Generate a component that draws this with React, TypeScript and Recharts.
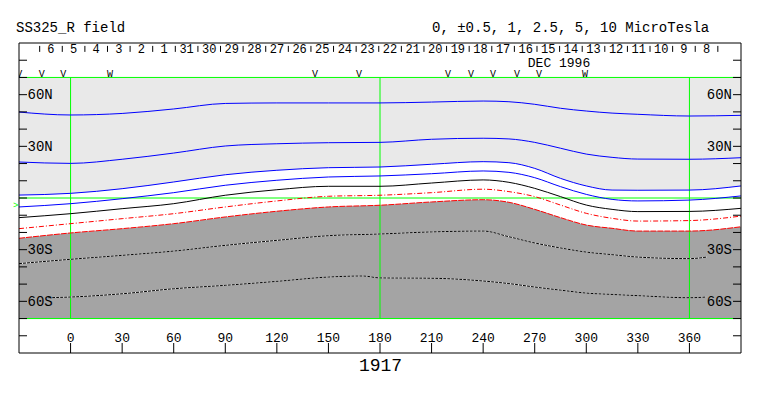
import React from 'react';
import { ComposedChart, Area, Line, XAxis, YAxis, ReferenceLine, Scatter } from 'recharts';

const W = 763;
const H = 396;
const FRAME_L = 19;
const FRAME_R = 741;
const FRAME_T = 43;
const FRAME_B = 353;
const FONT = '"Liberation Mono", "DejaVu Sans Mono", monospace';

// Carrington longitude sample points (deg)
const lons = [-30, -13, 0, 30, 60, 90, 120, 150, 170, 180, 210, 240, 255, 270, 285, 300, 315, 330, 360, 370, 390];

// contour latitudes (deg), top to bottom
const blue1 = [49.9, null, 48.2, 49.1, 51.7, 54.9, 55.2, 55.2, null, 55.2, 55.7, 56.3, 55.9, 54.4, 52.1, 50.5, 49.3, 48.6, 47.6, null, 48.0];
const blue2 = [20.9, null, 20.1, 22.5, 26.1, 30.2, 31.5, 32.1, null, 32.3, 34.1, 34.7, 34.3, 32.3, 28.9, 25.5, 23.6, 22.6, 22.5, null, 23.4];
const blue3 = [1.7, null, 2.7, 5.4, 9.3, 13.5, 16.1, 17.6, null, 18.0, 19.6, 21.1, 20.5, 17.2, 11.4, 7.0, 4.6, 4.5, 4.6, null, 7.0];
const blue4 = [-5.2, null, -3.3, -0.4, 3.1, 7.4, 10.3, 12.2, null, 12.8, 14.1, 15.7, 14.9, 11.8, 6.6, 2.1, -0.8, -1.7, -1.2, null, 1.2];
const neutral = [-11.4, null, -9.1, -6.2, -3.3, 1.6, 4.8, 6.8, null, 6.8, 8.7, 10.5, 9.1, 5.6, 0.8, -4.1, -6.6, -7.9, -7.8, null, -6.0];
const red1 = [-17.8, null, -14.9, -12.0, -9.1, -5.2, -1.7, 1.0, null, 1.6, 3.1, 5.1, 3.7, 0.8, -4.1, -8.9, -11.8, -13.4, -13.1, null, -10.5];
const red2 = [-23.4, null, -20.3, -17.8, -14.9, -11.0, -7.7, -5.2, null, -4.2, -2.3, -1.0, -2.5, -6.6, -11.4, -15.7, -17.6, -19.2, -19.2, null, -16.7];
const dotted1 = [-38.1, null, -35.6, -33.3, -30.8, -27.5, -24.6, -21.9, null, -20.9, -19.7, -19.2, -22.5, -26.1, -29.0, -31.4, -32.9, -34.3, -35.2, -34.3, null];
const dotted2 = [null, -57.9, -57.5, -55.6, -52.7, -50.7, -48.4, -45.9, -45.3, -46.4, -46.6, -48.2, -49.7, -51.7, -53.5, -55.2, -56.0, -56.7, -57.9, -57.5, null];

// axis ticks
const lonTicks = [0, 30, 60, 90, 120, 150, 180, 210, 240, 270, 300, 330, 360];
const latTicks = [-80, -70, -60, -50, -40, -30, -20, -10, 0, 10, 20, 30, 40, 50, 60, 70, 80];
const latLabeled = [60, 30, -30, -60];

// dates along the top (Dec 1996 / Jan 1997, time runs right to left)
const dayNums = [6, 5, 4, 3, 2, 1, 31, 30, 29, 28, 27, 26, 25, 24, 23, 22, 21, 20, 19, 18, 17, 16, 15, 14, 13, 12, 11, 10, 9, 8];
const DAY0_LON = -11.4;
const DEG_PER_DAY = 13.15;
const DAY_ROW_LAT = 86;
const HALF_DAY_PX = 11.3;

// small markers above the map
const markLons = [-29.8, -16.8, -4.2, 22.9, 142.2, 167.8, 219.6, 232.9, 245.7, 259.7, 272.5, 299.3];
const markChars = ['V', 'V', 'V', 'W', 'V', 'V', 'V', 'V', 'V', 'V', 'V', 'W'];

const rows = lons.map((lon, i) => ({
  lon,
  blue1: blue1[i],
  blue2: blue2[i],
  blue3: blue3[i],
  blue4: blue4[i],
  neutral: neutral[i],
  red1: red1[i],
  red2: red2[i],
  dotted1: dotted1[i],
  dotted2: dotted2[i],
  light: blue3[i] == null ? null : [blue3[i], 70],
  dark: red2[i] == null ? null : [-70, red2[i]],
}));

const markRows = markLons.map((lon, i) => ({ lon, lat: 72, ch: markChars[i] }));
const dayRows = dayNums.map((day, i) => ({ lon: DAY0_LON + i * DEG_PER_DAY, lat: DAY_ROW_LAT, day, last: i === dayNums.length - 1 }));

const latLabel = (v: number) => `${Math.abs(v)}${v > 0 ? 'N' : 'S'}`;

const LonTick = (p: any) => (
  <g>
    <line x1={p.x} x2={p.x} y1={FRAME_B - 10} y2={FRAME_B} stroke="#000" />
    <text x={p.x} y={FRAME_B - 11} textAnchor="middle" fontSize={13} fontFamily={FONT} fill="#000">
      {p.payload.value}
    </text>
  </g>
);

const LeftLatTick = (p: any) => {
  const v = p.payload.value;
  return (
    <g>
      <line x1={FRAME_L} x2={FRAME_L + 8} y1={p.y} y2={p.y} stroke="#000" />
      {latLabeled.includes(v) && (
        <text x={FRAME_L + 8.5} y={p.y + 4.5} fontSize={14} fontFamily={FONT} fill="#000">
          {latLabel(v)}
        </text>
      )}
    </g>
  );
};

const RightLatTick = (p: any) => {
  const v = p.payload.value;
  return (
    <g>
      <line x1={FRAME_R - 8} x2={FRAME_R} y1={p.y} y2={p.y} stroke="#000" />
      {latLabeled.includes(v) && (
        <text x={FRAME_R - 9} y={p.y + 4.5} textAnchor="end" fontSize={14} fontFamily={FONT} fill="#000">
          {latLabel(v)}
        </text>
      )}
    </g>
  );
};

const MarkShape = (p: any) => (
  <text x={p.cx} y={p.cy + 3} textAnchor="middle" fontSize={10} fontFamily={FONT} fill="#000">
    {p.payload.ch}
  </text>
);

const DayShape = (p: any) => (
  <g>
    <line x1={p.cx - HALF_DAY_PX} x2={p.cx - HALF_DAY_PX} y1={p.cy - 4} y2={p.cy + 2} stroke="#000" />
    {p.payload.last && (
      <line x1={p.cx + HALF_DAY_PX} x2={p.cx + HALF_DAY_PX} y1={p.cy - 4} y2={p.cy + 2} stroke="#000" />
    )}
    <text x={p.cx} y={p.cy + 3.5} textAnchor="middle" fontSize={12} fontFamily={FONT} fill="#000">
      {p.payload.day}
    </text>
  </g>
);

const GREEN = '#00ff00';

export default function App() {
  const ax = { xAxisId: 'b', yAxisId: 'l' };
  return (
    <div style={{ position: 'absolute', left: 0, top: 0, width: W, height: H, background: '#fff' }}>
      <ComposedChart width={W} height={H} data={rows}
        margin={{ top: FRAME_T - 1, right: W - FRAME_R - 1, bottom: H - FRAME_B - 1, left: FRAME_L - 1 }}>
        <XAxis xAxisId="b" dataKey="lon" type="number" domain={[-30, 390]} allowDataOverflow ticks={lonTicks} interval={0}
          height={1} tickLine={false} axisLine={{ stroke: '#000' }} tick={<LonTick />} />
        <XAxis xAxisId="t" orientation="top" type="number" domain={[-30, 390]} allowDataOverflow
          height={1} tickLine={false} axisLine={{ stroke: '#000' }} tick={false} />
        <YAxis yAxisId="l" type="number" domain={[-90, 90]} allowDataOverflow ticks={latTicks} interval={0}
          width={1} tickLine={false} axisLine={{ stroke: '#000' }} tick={<LeftLatTick />} />
        <YAxis yAxisId="r" orientation="right" type="number" domain={[-90, 90]} allowDataOverflow ticks={latTicks} interval={0}
          width={1} tickLine={false} axisLine={{ stroke: '#000' }} tick={<RightLatTick />} />

        <Area {...ax} type="monotone" dataKey="light" fill="#e9e9e9" fillOpacity={1} stroke="none" connectNulls isAnimationActive={false} />
        <Area {...ax} type="monotone" dataKey="dark" fill="#a4a4a4" fillOpacity={1} stroke="none" connectNulls isAnimationActive={false} />

        <ReferenceLine {...ax} y={70} stroke={GREEN} />
        <ReferenceLine {...ax} y={-70} stroke={GREEN} />
        <ReferenceLine {...ax} y={0} stroke={GREEN} />
        <ReferenceLine {...ax} segment={[{ x: 0, y: -70 }, { x: 0, y: 70 }]} stroke={GREEN} />
        <ReferenceLine {...ax} segment={[{ x: 180, y: -70 }, { x: 180, y: 70 }]} stroke={GREEN} />
        <ReferenceLine {...ax} segment={[{ x: 360, y: -70 }, { x: 360, y: 70 }]} stroke={GREEN} />

        <Line {...ax} type="monotone" dataKey="blue1" stroke="#0000ff" dot={false} connectNulls isAnimationActive={false} />
        <Line {...ax} type="monotone" dataKey="blue2" stroke="#0000ff" dot={false} connectNulls isAnimationActive={false} />
        <Line {...ax} type="monotone" dataKey="blue3" stroke="#0000ff" dot={false} connectNulls isAnimationActive={false} />
        <Line {...ax} type="monotone" dataKey="blue4" stroke="#0000ff" dot={false} connectNulls isAnimationActive={false} />
        <Line {...ax} type="monotone" dataKey="neutral" stroke="#000" dot={false} connectNulls isAnimationActive={false} />
        <Line {...ax} type="monotone" dataKey="red1" stroke="#ff0000" strokeDasharray="5 2 1 2" dot={false} connectNulls isAnimationActive={false} />
        <Line {...ax} type="monotone" dataKey="red2" stroke="#ff0000" strokeDasharray="6 1" dot={false} connectNulls isAnimationActive={false} />
        <Line {...ax} type="monotone" dataKey="dotted1" stroke="#fff" dot={false} connectNulls isAnimationActive={false} />
        <Line {...ax} type="monotone" dataKey="dotted1" stroke="#000" strokeDasharray="3 1" dot={false} connectNulls isAnimationActive={false} />
        <Line {...ax} type="monotone" dataKey="dotted2" stroke="#fff" dot={false} connectNulls isAnimationActive={false} />
        <Line {...ax} type="monotone" dataKey="dotted2" stroke="#000" strokeDasharray="3 1" dot={false} connectNulls isAnimationActive={false} />

        <Scatter {...ax} data={markRows} dataKey="lat" shape={<MarkShape />} isAnimationActive={false} />
        <Scatter {...ax} data={dayRows} dataKey="lat" shape={<DayShape />} isAnimationActive={false} />
      </ComposedChart>
      <svg width={W} height={H} style={{ position: 'absolute', left: 0, top: 0, pointerEvents: 'none' }}>
        <text x={16} y={32} fontSize={14} fontFamily={FONT} fill="#000">SS325_R field</text>
        <text x={432} y={32} fontSize={14} fontFamily={FONT} fill="#000">0, ±0.5, 1, 2.5, 5, 10 MicroTesla</text>
        <text x={559} y={66.5} textAnchor="middle" fontSize={13} fontFamily={FONT} fill="#000">DEC 1996</text>
        <text x={380.5} y={371} textAnchor="middle" fontSize={18} fontFamily={FONT} fill="#000">1917</text>
        <text x={13} y={208} fontSize={9} fontFamily={FONT} fill={GREEN}>&gt;</text>
      </svg>
    </div>
  );
}
